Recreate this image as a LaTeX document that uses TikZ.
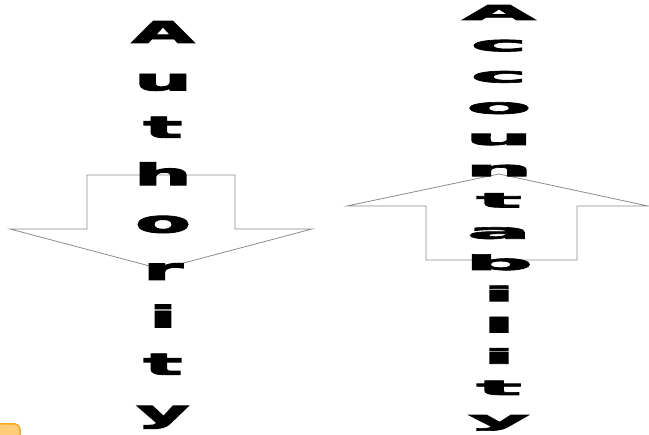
\documentclass[tikz,border=0pt]{standalone}
\usepackage{fontspec}
\newfontfamily\heavyfont{DejaVu Sans}[BoldFeatures={FakeBold=3}]
\usepackage{xcolor}
\definecolor{arrgray}{RGB}{140,140,140}
\definecolor{tagorange}{RGB}{250,170,30}
\definecolor{tagfill}{RGB}{255,205,120}
\usetikzlibrary{positioning}

\begin{document}
\begin{tikzpicture}[x=1pt,y=-1pt,
    authltr/.style={anchor=base,inner sep=0pt,font=\heavyfont\bfseries\fontsize{30}{30}\selectfont},
    accltr/.style={anchor=base,inner sep=0pt,font=\heavyfont\bfseries\fontsize{20.5}{20.5}\selectfont}]
      \clip (0,0) rectangle (649,435);
      % down arrow (authority)
      \draw[arrgray,line width=0.8pt] (87,175) -- (235,175) -- (235,229) -- (312,229)
        -- (161,269) -- (10,229) -- (87,229) -- cycle;
      % up arrow (accountability)
      \draw[arrgray,line width=0.8pt] (426,260) -- (577,260) -- (577,206) -- (648,206)
        -- (499,174) -- (347,206) -- (426,206) -- cycle;
      \foreach \ch [count=\i from 0] in {A,u,t,h,o,r,i,t,y}
        \node[authltr] (auth\i) at (163,43+47.4*\i) {\scalebox{2.7}[1]{\ch}};
      \foreach \ch [count=\i from 0] in {A,c,c,o,u,n,t,a,b,i,l,i,t,y}
        \node[accltr] (acc\i) at (499,20+31.25*\i) {\scalebox{4.6}[1]{\ch}};
      \draw[tagorange,line width=1.5pt,fill=tagfill,rounded corners=5pt] (-10,424) rectangle (20,450);
    \end{tikzpicture}
\end{document}
